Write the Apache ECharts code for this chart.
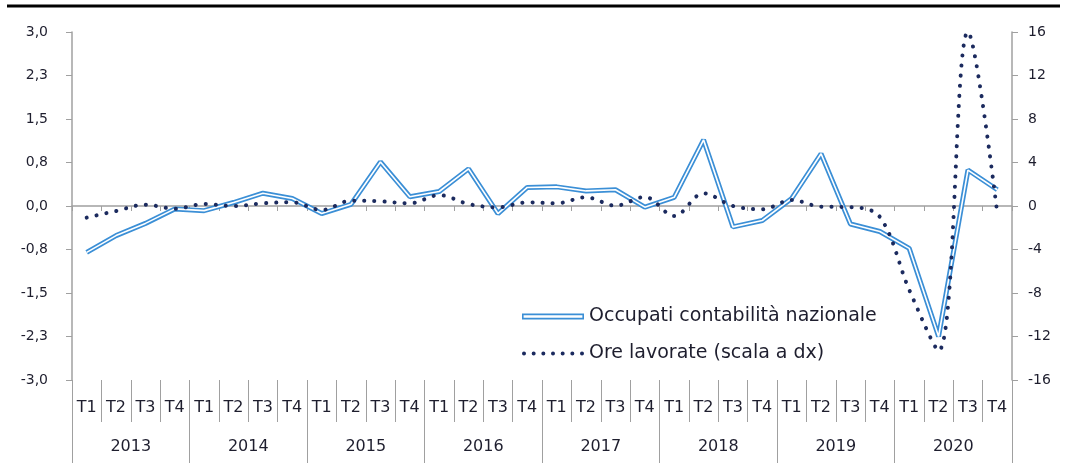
<!DOCTYPE html>
<html>
<head>
<meta charset="utf-8">
<script src="https://cdn.jsdelivr.net/npm/echarts@6/dist/echarts.min.js"></script>
<style>
html,body{margin:0;padding:0;background:#fff}
#chart{width:1067px;height:463px}
</style>
</head>
<body>
<div id="chart"></div>
<script>
// categorie: anni e trimestri
var years = ['2013', '2014', '2015', '2016', '2017', '2018', '2019', '2020'];
var quarterNames = ['T1', 'T2', 'T3', 'T4'];
var quarters = [];
for (var y = 0; y < years.length; y++) {
    for (var q = 0; q < quarterNames.length; q++) {
        quarters.push(quarterNames[q]);
    }
}

// variazioni congiunturali (%)
var occupati = [-0.80, -0.51, -0.30, -0.05, -0.08, 0.06, 0.22, 0.13,
                -0.13, 0.03, 0.76, 0.16, 0.25, 0.64, -0.13, 0.32,
                0.33, 0.26, 0.28, -0.02, 0.15, 1.14, -0.36, -0.25,
                0.13, 0.90, -0.31, -0.44, -0.73, -2.25, 0.62, 0.28];
var oreLavorate = [-1.07, -0.46, 0.12, -0.25, 0.18, 0.00, 0.25, 0.34,
                   -0.37, 0.49, 0.43, 0.25, 1.00, 0.18, -0.12, 0.34,
                   0.25, 0.80, 0.03, 0.83, -0.92, 1.17, 0.00, -0.30,
                   0.55, -0.06, -0.10, -1.00, -7.70, -13.30, 16.00, -0.70];

// etichette asse sinistro (da -3 a 3, passo 0,75)
var leftTicks = ['-3,0', '-2,3', '-1,5', '-0,8', '0,0', '0,8', '1,5', '2,3', '3,0'];

var blue = '#3b8fd6';
var navy = '#1b2a5e';
var grey = '#a0a0a0';
var txt = '#1e1e2e';
var font = 'DejaVu Sans';

// icone legenda: doppia linea e puntini
var iconDoppia = 'path://M0,0H62V1.8H0Z M0,4.2H62V6H0Z M0,0H1.6V6H0Z M60.4,0H62V6H60.4Z';
var iconPunti = 'path://';
for (var k = 0; k < 7; k++) {
    var cx = 2 + k * 9.67;
    iconPunti += 'M' + (cx - 2) + ',2 a2,2 0 1,0 4,0 a2,2 0 1,0 -4,0 Z ';
}

var myChart = echarts.init(document.getElementById('chart'));
myChart.setOption({
    animation: false,
    textStyle: {fontFamily: font},
    grid: {
        left: 72,
        right: 55,
        top: 32,
        bottom: 83
    },
    graphic: [{
        type: 'line',
        shape: {x1: 7, y1: 6, x2: 1060, y2: 6},
        style: {stroke: '#000', lineWidth: 3}
    }],
    legend: {
        orient: 'vertical',
        left: 522,
        top: 307,
        padding: 0,
        itemWidth: 62,
        itemHeight: 7,
        itemGap: 18,
        textStyle: {fontFamily: font, fontSize: 19, color: txt},
        data: [
            {name: 'Occupati contabilità nazionale', icon: iconDoppia},
            {name: 'Ore lavorate (scala a dx)', icon: iconPunti}
        ]
    },
    xAxis: [{
        // linea dello zero con tacche
        type: 'category',
        data: quarters,
        boundaryGap: true,
        axisLine: {onZero: true, lineStyle: {color: grey, width: 1.5}},
        axisTick: {show: true, length: 5, interval: 0, lineStyle: {color: grey}},
        axisLabel: {show: false},
        splitLine: {show: false}
    }, {
        type: 'category',
        data: quarters,
        position: 'bottom',
        boundaryGap: true,
        axisLine: {show: false, onZero: false},
        axisTick: {show: true, length: 42, interval: 0, lineStyle: {color: grey}},
        axisLabel: {interval: 0, margin: 20, fontSize: 16, color: txt, fontFamily: font},
        splitLine: {show: false}
    }, {
        type: 'category',
        data: years,
        position: 'bottom',
        boundaryGap: true,
        axisLine: {show: false, onZero: false},
        axisTick: {show: true, length: 83, interval: 0, lineStyle: {color: grey}},
        axisLabel: {interval: 0, margin: 59, fontSize: 16, color: txt, fontFamily: font},
        splitLine: {show: false}
    }],
    yAxis: [{
        type: 'value',
        min: -3,
        max: 3,
        interval: 0.75,
        axisLine: {show: true, lineStyle: {color: grey, width: 1.5}},
        axisTick: {show: true, length: 6, lineStyle: {color: grey}},
        splitLine: {show: false},
        axisLabel: {
            margin: 24,
            fontSize: 14,
            color: txt,
            fontFamily: font,
            formatter: function (value) {
                return leftTicks[Math.round((value + 3) / 0.75)];
            }
        }
    }, {
        type: 'value',
        min: -16,
        max: 16,
        interval: 4,
        position: 'right',
        axisLine: {show: true, lineStyle: {color: grey, width: 1.5}},
        axisTick: {show: true, length: 6, lineStyle: {color: grey}},
        splitLine: {show: false},
        axisLabel: {margin: 16, fontSize: 14, color: txt, fontFamily: font}
    }],
    series: [{
        name: 'Occupati contabilità nazionale',
        type: 'line',
        data: occupati,
        yAxisIndex: 0,
        symbol: 'none',
        color: blue,
        lineStyle: {color: blue, width: 5},
        z: 2
    }, {
        name: 'occupati_interno',
        type: 'line',
        data: occupati,
        yAxisIndex: 0,
        symbol: 'none',
        silent: true,
        lineStyle: {color: '#fff', width: 1.6},
        z: 3
    }, {
        name: 'Ore lavorate (scala a dx)',
        type: 'line',
        data: oreLavorate,
        yAxisIndex: 1,
        symbol: 'none',
        smooth: 0.35,
        color: navy,
        lineStyle: {color: navy, width: 4, type: [0.1, 10], cap: 'round'},
        z: 4
    }]
});
</script>
</body>
</html>
